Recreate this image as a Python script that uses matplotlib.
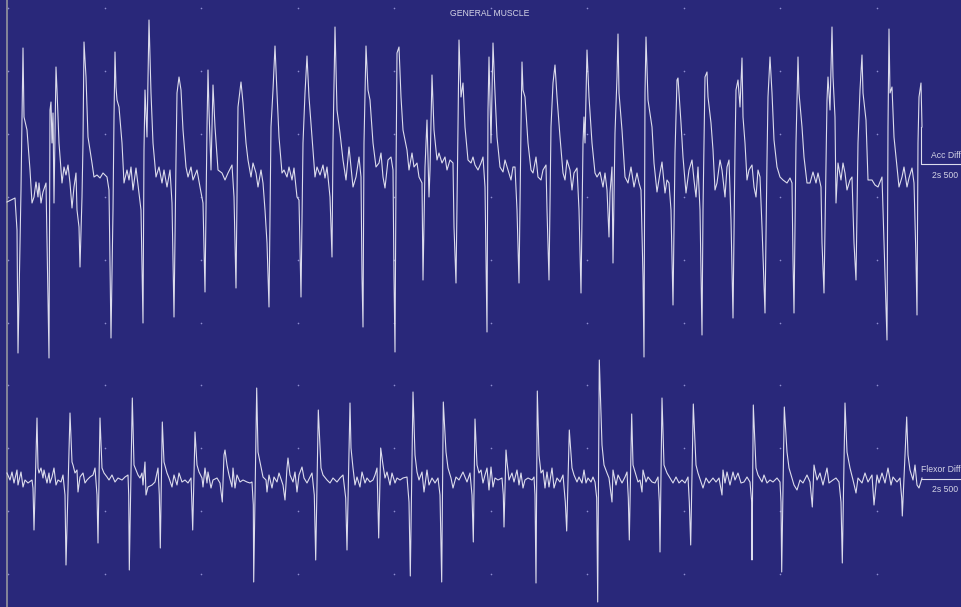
import numpy as np
import matplotlib
matplotlib.use("Agg")
import matplotlib.pyplot as plt

plt.rcParams['font.family'] = ['Liberation Sans', 'DejaVu Sans']

TITLE = "GENERAL MUSCLE"
CH1_NAME = "Acc Diff"
CH2_NAME = "Flexor Diff"
SCALE_LABEL = "2s 500"

# Channel 1 (Acc Diff): sample position and amplitude (display units, 0 = baseline)
acc_t = [7, 15, 17, 18, 21, 22, 23, 24, 27, 30, 32, 34, 36, 38, 39, 41, 43, 46, 47, 49,
         50, 51, 52, 53, 54, 56, 57, 59, 62, 64, 66, 68, 70, 72, 74, 76, 77, 79, 80, 82,
         83, 84, 86, 88, 92, 94, 97, 100, 103, 107, 109, 110, 111, 113, 114, 115, 116, 117, 119, 122,
         124, 127, 129, 131, 133, 136, 138, 141, 143, 144, 145, 147, 149, 151, 153, 156, 159, 162, 164, 167,
         170, 172, 174, 176, 177, 179, 181, 183, 186, 188, 191, 193, 197, 200, 203, 205, 207, 208, 209, 211,
         213, 215, 218, 222, 225, 228, 232, 234, 236, 238, 241, 243, 246, 248, 251, 253, 256, 258, 261, 263,
         265, 267, 269, 271, 273, 275, 277, 279, 282, 284, 287, 289, 292, 294, 297, 299, 301, 303, 305, 307,
         309, 312, 315, 317, 320, 323, 325, 327, 330, 332, 333, 335, 337, 340, 343, 346, 349, 351, 353, 356,
         359, 361, 362, 363, 364, 366, 368, 370, 373, 376, 379, 381, 383, 385, 388, 391, 393, 394, 395, 396,
         397, 399, 401, 403, 407, 409, 412, 414, 417, 419, 422, 423, 425, 427, 429, 430, 432, 434, 437, 439,
         442, 445, 447, 450, 453, 454, 456, 458, 459, 461, 463, 465, 468, 471, 473, 475, 478, 481, 483, 485,
         486, 487, 488, 489, 491, 492, 493, 495, 497, 500, 503, 505, 508, 511, 513, 515, 517, 519, 521, 522,
         523, 525, 528, 531, 533, 536, 538, 541, 543, 546, 547, 549, 551, 553, 555, 557, 560, 563, 565, 567,
         570, 572, 574, 577, 579, 581, 583, 584, 585, 587, 589, 592, 595, 597, 600, 603, 605, 607, 609, 610,
         612, 613, 615, 617, 618, 619, 622, 625, 628, 631, 634, 637, 639, 641, 643, 644, 645, 646, 648, 652,
         654, 657, 660, 662, 665, 667, 669, 671, 673, 675, 677, 678, 681, 683, 686, 689, 692, 694, 696, 698,
         700, 702, 703, 705, 707, 708, 711, 713, 715, 717, 720, 722, 725, 727, 729, 731, 733, 735, 736, 738,
         740, 742, 743, 745, 747, 749, 752, 754, 756, 758, 760, 762, 765, 767, 768, 770, 772, 774, 777, 780,
         783, 787, 790, 792, 793, 794, 796, 798, 799, 802, 804, 807, 810, 813, 816, 818, 821, 822, 824, 826,
         827, 828, 830, 832, 833, 835, 836, 838, 841, 843, 845, 847, 850, 852, 854, 856, 858, 860, 862, 863,
         866, 868, 872, 875, 878, 882, 883, 885, 887, 888, 889, 890, 892, 894, 897, 899, 902, 904, 907, 909,
         912, 914, 916, 917, 918, 919, 921, 922]
acc_v = [-27, -23, -55, -178, -15, 55, 127, 58, 45, 5, -28, -22, -7, -22, -8, -28, -17, -8, -68, -183,
         65, 73, 32, 62, -28, 108, 85, 32, -8, 8, 0, 10, -8, -33, -12, 2, -35, -52, -92, -22,
         32, 133, 98, 38, 12, -2, 0, -3, 2, -2, -15, -88, -163, -35, 58, 123, 88, 75, 68, 32,
         -8, 5, -5, 8, -15, 7, -10, -35, -148, 25, 85, 38, 155, 82, 32, -2, 8, -8, 5, -12,
         5, -28, -142, 15, 82, 98, 85, 45, 8, -2, 8, -5, 5, -12, -28, -117, 48, 105, 65, 5,
         90, 48, 5, 2, -5, 2, 10, -22, -113, 68, 93, 72, 32, 15, -2, 12, 2, -12, 5, -8,
         -35, -68, -132, 48, 85, 129, 82, 38, 2, 5, -2, 8, -5, 7, -22, -25, -122, 32, 82, 119,
         78, 38, -2, 8, 0, 10, -3, 8, -22, -82, 32, 148, 65, 42, 15, -5, 28, 8, -12, -2,
         18, -2, -102, -152, 32, 129, 85, 75, 32, 8, 12, 22, -2, -13, 15, 18, 5, -102, -177, -2,
         122, 128, 78, 45, 25, 5, 22, 8, 12, -2, -8, -105, 8, 55, -22, 5, 100, 45, 15, 22,
         12, 18, 5, 15, 12, -52, -108, 48, 135, 78, 92, 48, 15, 12, 18, 10, 5, 12, 18, -12,
         -82, -157, 65, 118, 32, 82, 132, 82, 38, 8, 3, 15, 5, -5, 8, 8, -35, -108, 48, 113,
         85, 78, 32, 5, 2, 18, -2, -5, 5, 10, -35, -105, 48, 92, 110, 78, 38, 2, -5, 15,
         5, -15, 2, 7, -35, -118, 32, 58, 32, 125, 78, 32, 2, -2, 3, -12, 2, -15, -62, -18,
         8, -88, 42, 98, 141, 82, 45, -2, -8, 8, -12, 2, -8, -15, -102, -182, 82, 138, 75, 48,
         12, -17, 2, 13, -18, -5, -8, -35, -130, 22, 95, 97, 52, 18, -18, 5, 15, -5, -22, 8,
         -35, -160, -35, 98, 103, 78, 52, 25, -15, -8, 15, 5, -22, 8, 15, -45, -143, 25, 85, 95,
         68, 117, 58, 32, -5, 5, 10, -12, -22, 5, -2, -52, -138, 15, 78, 118, 82, 35, 8, -2,
         -5, -8, -3, -8, -85, -138, 32, 118, 82, 48, 18, -8, -8, 3, -8, 2, -12, -68, -118, 15,
         75, 98, 65, 148, 98, 58, -28, 12, -5, 12, 2, -15, -5, -2, -68, -105, 32, 85, 120, 82,
         55, -5, -5, -10, -12, -2, -35, -102, -165, 48, 146, 82, 88, 38, 8, -12, -2, 8, -12, -3,
         7, -8, -85, -140, 32, 78, 92, 48]

# Channel 2 (Flexor Diff): sample position and amplitude (display units, 0 = baseline)
flex_t = [7, 10, 12, 14, 17, 18, 21, 23, 25, 28, 32, 33, 34, 37, 38, 39, 41, 43, 44, 47,
          49, 50, 52, 54, 56, 58, 61, 63, 65, 66, 70, 72, 73, 75, 77, 78, 80, 83, 85, 87,
          90, 93, 95, 97, 98, 100, 102, 104, 107, 109, 112, 115, 118, 122, 125, 128, 128.7, 129.3, 132.3, 134,
          136, 138, 140, 142, 143, 145, 146, 148, 152, 155, 158, 159.3, 160.3, 162.3, 164, 167, 169, 172, 174, 177,
          179, 182, 185, 188, 191, 191.7, 192.7, 195, 197, 199, 202, 203, 205, 207, 208, 211, 213, 217, 220, 222.3,
          224, 225, 227, 229, 232, 233, 235, 237, 240, 243, 247, 250, 252, 253.3, 253.7, 256.7, 258, 261, 263, 266,
          267, 269, 272, 274, 277, 279, 283, 285, 287, 288, 290, 293, 295, 297, 299, 302, 304, 307, 312, 314.3,
          315.7, 318.3, 321, 323, 327, 330, 333, 337, 340, 343, 345.7, 347, 350, 351, 353, 355, 357, 360, 362, 365,
          367, 370, 373, 375, 377, 377.7, 378.7, 380.7, 383, 385, 387, 390, 392, 395, 397, 400, 403, 407, 409, 410.3,
          413, 415, 417, 419, 422, 424, 427, 429, 432, 435, 438, 440, 441.7, 443.3, 446, 448, 451, 453, 456, 459,
          463, 467, 470, 472, 473.3, 475, 477, 479, 481, 483, 485, 487, 489, 491, 493, 495, 498, 502, 503.3, 504,
          506, 507, 509, 512, 514, 517, 519, 521, 523, 525, 528, 532, 534, 535, 536, 537.3, 539, 541, 543, 545,
          547, 549, 552, 554, 557, 560, 563, 565.3, 566.7, 569.3, 572, 574, 577, 579, 582, 584, 586, 588, 591, 593,
          595, 596.7, 597.7, 599.3, 602, 604, 607, 609, 612, 613, 616, 618, 622, 625, 627, 628.3, 629.3, 631.7, 633, 636,
          638, 640, 642, 643, 646, 648, 652, 655, 658, 659.3, 660, 662, 664, 667, 670, 673, 676, 679, 682, 685,
          688, 689.3, 690.7, 693.3, 696, 698, 701, 703, 706, 709, 713, 716, 719, 722, 723, 725, 727, 730, 733, 735,
          738, 741, 744, 747, 750, 751.7, 752, 753.3, 756, 758, 762, 764, 767, 770, 773, 777, 780, 781, 781.7, 784.3,
          787, 789, 792, 794, 797, 800, 803, 807, 810, 812.3, 814, 817, 820, 823, 827, 829, 833, 836, 839, 841,
          842.3, 845, 847, 850, 853, 856, 858, 862, 865, 868, 872, 874, 877, 879, 882, 885, 888, 891, 893, 897,
          900, 901.7, 902.3, 906.7, 908, 910, 913, 915, 917, 919, 922]
flex_v = [5, -2, 6, -5, 8, -7, 6, -9, -2, -5, -2, -10, -52, 60, 10, 5, 10, 0, 8, -5,
          5, -5, 1, 10, -7, -2, -4, 3, -17, -87, 65, 16, 13, 5, 8, -14, 1, 5, -5, -2,
          1, 3, 10, -17, -65, 60, 10, 5, 1, -2, 3, -4, 0, -2, 1, 3, -17, -92, 80, 13,
          8, 3, 0, 5, -7, 16, -17, -9, -7, -4, 10, -17, -70, 56, 16, 5, 0, -9, 3, -7,
          5, -4, -2, -5, 0, -20, -52, 46, 13, 6, 0, -9, 10, -5, 6, -10, -2, 0, -5, -24,
          23, 28, 13, 3, -9, 10, -10, 3, -4, -2, -4, -5, -4, -27, -104, 90, 26, 11, 1, -2,
          -14, 3, -10, 1, -4, 5, -7, -22, 10, 20, 3, -4, 6, -14, 3, 11, 0, -5, 5, -17,
          -82, 68, 10, 3, -2, -5, 0, -4, 0, 3, -20, -72, 75, 30, 10, -7, 1, -9, 6, -5,
          0, -4, -2, 3, 10, -17, -60, 30, 13, 0, 6, -7, 5, -5, 0, -2, 0, 1, -24, -98,
          86, 23, 6, -2, 6, -14, 8, -7, 0, -5, 0, -17, -104, 76, 26, 10, 0, -10, 1, -2,
          6, -4, 5, -17, -64, 59, 13, 5, 8, -5, 3, 10, -12, 11, -9, 0, -2, 0, -17, -49,
          28, 16, -2, 5, -4, 8, -7, 5, -10, -2, 0, -2, 1, -17, -105, 87, 23, 5, 8, -10,
          6, -9, 10, -10, 0, -4, 3, -24, -53, 48, 10, 3, -4, 1, -5, 8, -5, 0, -4, 1,
          -4, -20, -124, 118, 33, 13, 5, 0, -24, 8, -7, 3, -5, 1, 6, -20, -62, 64, 13, 3,
          -4, -2, -14, 8, -4, 1, -4, -5, 1, -24, -74, 80, 13, 5, 0, -5, 1, -5, -2, -5,
          1, -24, -67, 74, 13, 5, -4, -10, 0, -5, 0, -4, 0, -17, 8, -5, 6, -7, 6, -2,
          5, -5, -4, 1, -4, -24, -82, 73, 10, 3, -4, 3, -5, -2, -4, 0, -4, -24, -94, 71,
          26, 10, 0, -7, -12, -2, -5, 3, -4, -29, 13, -2, 5, -7, 10, -5, -2, 0, -4, -24,
          -85, 75, 26, 10, -2, -15, 0, -5, 5, -4, 3, -27, 3, -5, 5, -5, 10, -7, 1, -4,
          0, -20, -38, 61, 23, 8, -2, 13, -7, -10, 0]

# Panel geometry (figure pixels): screen rows of each channel's baseline
FIG_W, FIG_H = 961, 607
CH1_BASE_ROW = 175
CH2_BASE_ROW = 478
grid_cols = 8 + 96.5 * np.arange(10)
grid_rows = 8 + 62.9 * np.arange(10)

BG = '#29287a'
TRACE = '#dcdcec'
TXT = '#d4d4e6'

fig = plt.figure(figsize=(FIG_W / 100, FIG_H / 100), dpi=100)
fig.patch.set_facecolor(BG)

bg = fig.add_axes([0, 0, 1, 1])
bg.set_facecolor(BG)
bg.set_xlim(0, FIG_W)
bg.set_ylim(FIG_H, 0)
bg.axis('off')
gx, gy = np.meshgrid(grid_cols, grid_rows)
bg.scatter(gx.ravel(), gy.ravel(), s=1.4, color='#8c8cd0', linewidths=0, zorder=1)
bg.plot([7, 7], [0, FIG_H], color='#8c8c9c', lw=1.3, zorder=2)

ax1 = fig.add_axes([0, 0, 1, 1])
ax1.patch.set_alpha(0)
ax1.set_xlim(0, FIG_W)
ax1.set_ylim(CH1_BASE_ROW - FIG_H, CH1_BASE_ROW)
ax1.axis('off')
ax1.plot(acc_t, acc_v, color=TRACE, lw=0.8, clip_on=False, zorder=3)

ax2 = fig.add_axes([0, 0, 1, 1])
ax2.patch.set_alpha(0)
ax2.set_xlim(0, FIG_W)
ax2.set_ylim(CH2_BASE_ROW - FIG_H, CH2_BASE_ROW)
ax2.axis('off')
ax2.plot(flex_t, flex_v, color=TRACE, lw=0.8, clip_on=False, zorder=3)

# labels and scale brackets
bg.text(490, 14, TITLE, color=TXT, fontsize=6.2, ha='center', va='center')
bg.plot([921, 921, FIG_W], [127, 164, 164], color=TRACE, lw=0.8)
bg.text(931, 156, CH1_NAME, color=TXT, fontsize=6.2, ha='left', va='center')
bg.text(932, 176, SCALE_LABEL, color=TXT, fontsize=6.2, ha='left', va='center')
bg.plot([922, FIG_W], [479, 479], color=TRACE, lw=0.8)
bg.text(921, 470, CH2_NAME, color=TXT, fontsize=6.2, ha='left', va='center')
bg.text(932, 490, SCALE_LABEL, color=TXT, fontsize=6.2, ha='left', va='center')

fig.savefig('out.png', dpi=100, facecolor=BG)
